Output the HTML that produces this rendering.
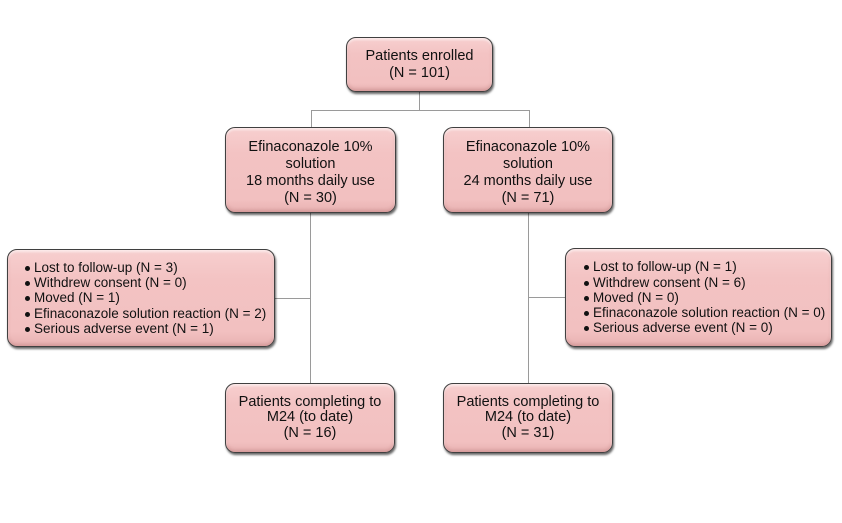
<!DOCTYPE html>
<html>
<head>
<meta charset="utf-8">
<style>
  html, body { margin:0; padding:0; }
  body { width:842px; height:523px; background:#ffffff; position:relative; overflow:hidden;
         font-family:"Liberation Sans", sans-serif; color:#111; }
  .box { position:absolute; box-sizing:border-box;
         background:linear-gradient(to bottom, #f7cfcf 0%, #f3c3c3 30%, #f2c0c0 85%, #e8b2b2 100%);
         border:1px solid #404040; border-radius:10px;
         box-shadow: 1px 2px 2px rgba(0,0,0,0.6), inset 0 2px 2px rgba(255,255,255,0.6), inset 0 -2px 3px rgba(150,80,80,0.25);
         display:flex; align-items:center; justify-content:center; text-align:center; }
  .c { font-size:14.5px; line-height:17px; }
  .b { font-size:14.5px; line-height:15.5px; }
  .list { justify-content:flex-start; text-align:left; font-size:13.5px; line-height:15.3px; }
  .list ul { margin:0; padding:0; list-style:none; }
  .list li { position:relative; padding-left:0; white-space:nowrap; }
  .list li::before { content:""; position:absolute; left:-9px; top:6px; width:5px; height:5px; border-radius:50%; background:#111; }
  .ln { position:absolute; background:#9a9a9a; }
</style>
</head>
<body>
  <!-- connectors -->
  <div class="ln" style="left:419px; top:92px; width:1px; height:19px;"></div>
  <div class="ln" style="left:311px; top:110px; width:219px; height:1px;"></div>
  <div class="ln" style="left:311px; top:110px; width:1px; height:17px;"></div>
  <div class="ln" style="left:529px; top:110px; width:1px; height:17px;"></div>
  <div class="ln" style="left:310px; top:213px; width:1px; height:170px;"></div>
  <div class="ln" style="left:275px; top:298px; width:36px; height:1px;"></div>
  <div class="ln" style="left:528px; top:213px; width:1px; height:170px;"></div>
  <div class="ln" style="left:528px; top:297px; width:37px; height:1px;"></div>

  <!-- boxes -->
  <div class="box c" style="left:346px; top:37px; width:147px; height:55px;">
    <div>Patients enrolled<br>(N = 101)</div>
  </div>

  <div class="box c" style="left:225px; top:127px; width:171px; height:86px; padding-top:5px;">
    <div>Efinaconazole 10%<br>solution<br>18 months daily use<br>(N = 30)</div>
  </div>
  <div class="box c" style="left:443px; top:127px; width:170px; height:86px; padding-top:5px;">
    <div>Efinaconazole 10%<br>solution<br>24 months daily use<br>(N = 71)</div>
  </div>

  <div class="box list" style="left:7px; top:249px; width:268px; height:98px; padding-left:26px;">
    <ul>
      <li>Lost to follow-up (N = 3)</li>
      <li>Withdrew consent (N = 0)</li>
      <li>Moved (N = 1)</li>
      <li>Efinaconazole solution reaction (N = 2)</li>
      <li>Serious adverse event (N = 1)</li>
    </ul>
  </div>
  <div class="box list" style="left:565px; top:248px; width:267px; height:99px; padding-left:27px;">
    <ul>
      <li>Lost to follow-up (N = 1)</li>
      <li>Withdrew consent (N = 6)</li>
      <li>Moved (N = 0)</li>
      <li>Efinaconazole solution reaction (N = 0)</li>
      <li>Serious adverse event (N = 0)</li>
    </ul>
  </div>

  <div class="box b" style="left:225px; top:383px; width:170px; height:70px;">
    <div>Patients completing to<br>M24 (to date)<br>(N = 16)</div>
  </div>
  <div class="box b" style="left:443px; top:383px; width:170px; height:70px;">
    <div>Patients completing to<br>M24 (to date)<br>(N = 31)</div>
  </div>
</body>
</html>
